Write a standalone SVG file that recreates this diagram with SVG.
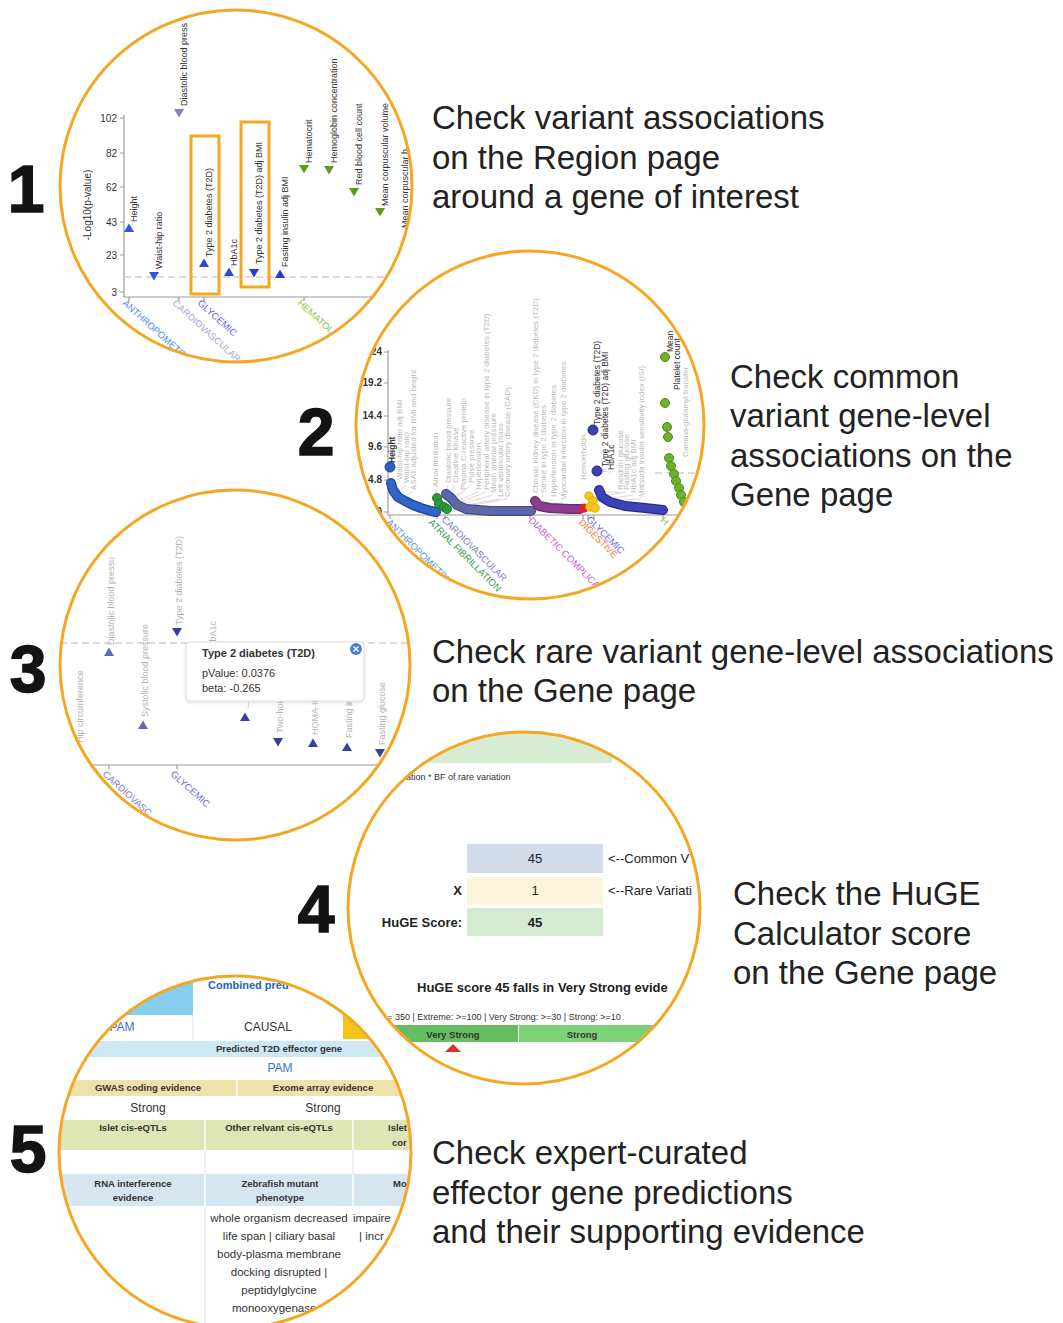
<svg xmlns="http://www.w3.org/2000/svg" xmlns:xlink="http://www.w3.org/1999/xlink" width="1063" height="1323" viewBox="0 0 1063 1323">
  <style>
    .ring{fill:none;stroke:#f5a623;stroke-width:3}
    .num{font-family:'Liberation Sans',Arial,sans-serif;font-weight:bold;font-size:66px;fill:#141414;stroke:#141414;stroke-width:1.6;text-anchor:middle}
    .cap{font-family:'Liberation Sans',Arial,sans-serif;font-size:33px;fill:#222}
    .tk{font-family:'Liberation Sans',Arial,sans-serif;font-size:10px;fill:#333}
    .tkr{font-family:'Liberation Sans',Arial,sans-serif;font-size:10px;fill:#333;text-anchor:end}
    .lb{font-family:'Liberation Sans',Arial,sans-serif;font-size:9px;fill:#333}
    .gl{font-family:'Liberation Sans',Arial,sans-serif;font-size:8px;fill:#b9b9b9}
    .dk{font-family:'Liberation Sans',Arial,sans-serif;font-size:8.5px;fill:#333}
    .lg{font-family:'Liberation Sans',Arial,sans-serif;font-size:9px;fill:#b3b3b3}
    .cat{font-family:'Liberation Sans',Arial,sans-serif;font-size:9.5px}
    .axis{stroke:#999;stroke-width:1.2;fill:none}
    .dash{stroke:#cfcfcf;stroke-width:1.3;stroke-dasharray:7 4;fill:none}
    .lead{stroke:#c8c8c8;stroke-width:0.7;fill:none}
    .tt{font-family:'Liberation Sans',Arial,sans-serif;font-size:11px;fill:#333}
    .hg{font-family:'Liberation Sans',Arial,sans-serif;font-size:13px;fill:#222}
    .hgb{font-family:'Liberation Sans',Arial,sans-serif;font-size:13px;font-weight:bold;fill:#222}
    .sm{font-family:'Liberation Sans',Arial,sans-serif;font-size:9px;fill:#333}
    .tb{font-family:'Liberation Sans',Arial,sans-serif;font-size:12px;fill:#333;text-anchor:middle}
    .tc{font-family:'Liberation Sans',Arial,sans-serif;font-size:11.5px;fill:#333;text-anchor:middle}
    .th{font-family:'Liberation Sans',Arial,sans-serif;font-size:9.5px;font-weight:bold;fill:#333;text-anchor:middle}
    .st{text-anchor:start}
    .lnk{fill:#3a72c6}
    .grid{stroke:#e2e2e2;stroke-width:1}
  </style>
  <defs>
    <path id="tu" d="M0,-4.5 L5,4 L-5,4 Z"/>
    <path id="td" d="M0,4.5 L5,-4 L-5,-4 Z"/>
    <clipPath id="c1"><circle cx="236" cy="186" r="175"/></clipPath>
    <clipPath id="c2"><circle cx="530" cy="425" r="173"/></clipPath>
    <clipPath id="c3"><circle cx="235" cy="665" r="174"/></clipPath>
    <clipPath id="c4"><circle cx="524" cy="908" r="175"/></clipPath>
    <clipPath id="c5"><circle cx="235" cy="1152" r="175"/></clipPath>
    <filter id="shadow" x="-10%" y="-10%" width="120%" height="130%">
      <feDropShadow dx="0" dy="1" stdDeviation="1.5" flood-color="#000" flood-opacity="0.15"/>
    </filter>
  </defs>

  <rect width="1063" height="1323" fill="#fff"/>

  <!-- step numbers -->
  <g id="numbers">
    <text class="num" x="26" y="212">1</text>
    <text class="num" x="316" y="455">2</text>
    <text class="num" x="28" y="692">3</text>
    <text class="num" x="316" y="932">4</text>
    <text class="num" x="28" y="1172">5</text>
  </g>

  <!-- captions -->
  <g id="captions">
    <text class="cap" x="432" y="129">Check variant associations</text>
    <text class="cap" x="432" y="169">on the Region page</text>
    <text class="cap" x="432" y="208">around a gene of interest</text>

    <text class="cap" x="730" y="388">Check common</text>
    <text class="cap" x="730" y="427">variant gene-level</text>
    <text class="cap" x="730" y="467">associations on the</text>
    <text class="cap" x="730" y="506">Gene page</text>

    <text class="cap" x="432" y="663">Check rare variant gene-level associations</text>
    <text class="cap" x="432" y="702">on the Gene page</text>

    <text class="cap" x="733" y="905">Check the HuGE</text>
    <text class="cap" x="733" y="945">Calculator score</text>
    <text class="cap" x="733" y="984">on the Gene page</text>

    <text class="cap" x="432" y="1164">Check expert-curated</text>
    <text class="cap" x="432" y="1204">effector gene predictions</text>
    <text class="cap" x="432" y="1243">and their supporting evidence</text>
  </g>

  <!-- 1: region page PheWAS plot -->
  <g id="panel1">
    <g clip-path="url(#c1)">
      <text class="tk" transform="translate(91,205) rotate(-90)" text-anchor="middle">-Log10(p-value)</text>
      <path class="axis" d="M124,115 V297 H420"/>
      <path class="axis" d="M120,118 H124 M120,153 H124 M120,187 H124 M120,222 H124 M120,255 H124 M120,292 H124"/>
      <text class="tkr" x="117" y="121.5">102</text>
      <text class="tkr" x="117" y="156.5">82</text>
      <text class="tkr" x="117" y="190.5">62</text>
      <text class="tkr" x="117" y="225.5">43</text>
      <text class="tkr" x="117" y="258.5">23</text>
      <text class="tkr" x="117" y="295.5">3</text>
      <path class="axis" d="M129,297 V301 M179,297 V301 M204,297 V301 M304,297 V301"/>
      <path class="dash" d="M124,277 H420"/>

      <!-- category labels -->
      <text class="cat" fill="#3f8ef0" transform="translate(122,304) rotate(42)">ANTHROPOMETRIC</text>
      <text class="cat" fill="#a3a7dc" transform="translate(172,304) rotate(42)">CARDIOVASCULAR</text>
      <text class="cat" fill="#6a5fe2" transform="translate(197,304) rotate(42)">GLYCEMIC</text>
      <text class="cat" fill="#8cc63f" transform="translate(297,304) rotate(42)">HEMATOLOGIC</text>

      <!-- leaders -->
      <path class="lead" d="M131,224 H134 M156,270 H159 M181,108 H184 M206,258 H209 M231,267 H234 M256,265 H259 M282,268 H285 M306,163 H309 M331,164 H334 M356,186 H359 M382,206 H385"/>

      <!-- markers -->
      <use href="#tu" x="129" y="228" fill="#2d56dc"/>
      <use href="#td" x="154" y="276" fill="#2d56dc"/>
      <use href="#td" x="179" y="113" fill="#7d82c6"/>
      <use href="#tu" x="204" y="263" fill="#2d48d4"/>
      <use href="#tu" x="229" y="272" fill="#2d48d4"/>
      <use href="#td" x="254" y="273" fill="#2a3ad0"/>
      <use href="#tu" x="280" y="274" fill="#2a3ad0"/>
      <use href="#td" x="304" y="169" fill="#5f9a1f"/>
      <use href="#td" x="329" y="170" fill="#5f9a1f"/>
      <use href="#td" x="354" y="192" fill="#5f9a1f"/>
      <use href="#td" x="380" y="212" fill="#5f9a1f"/>

      <!-- marker labels -->
      <text class="lb" transform="translate(137,222) rotate(-90)">Height</text>
      <text class="lb" transform="translate(162,269) rotate(-90)">Waist-hip ratio</text>
      <text class="lb" transform="translate(187,106) rotate(-90)">Diastolic blood press</text>
      <text class="lb" transform="translate(212,257) rotate(-90)">Type 2 diabetes (T2D)</text>
      <text class="lb" transform="translate(237,266) rotate(-90)">HbA1c</text>
      <text class="lb" transform="translate(262,264) rotate(-90)">Type 2 diabetes (T2D) adj BMI</text>
      <text class="lb" transform="translate(288,267) rotate(-90)">Fasting insulin adj BMI</text>
      <text class="lb" transform="translate(312,163) rotate(-90)">Hematocrit</text>
      <text class="lb" transform="translate(337,163) rotate(-90)">Hemoglobin concentration</text>
      <text class="lb" transform="translate(362,185) rotate(-90)">Red blood cell count</text>
      <text class="lb" transform="translate(388,206) rotate(-90)">Mean corpuscular volume</text>
      <text class="lb" transform="translate(408,228) rotate(-90)">Mean corpuscular h</text>

      <!-- highlight boxes -->
      <rect x="191" y="136" width="28" height="158" fill="none" stroke="#f5a623" stroke-width="3"/>
      <rect x="241" y="122" width="28" height="165" fill="none" stroke="#f5a623" stroke-width="3"/>
    </g>
    <circle class="ring" cx="236" cy="186" r="176"/>
  </g>

  <!-- 2: common variant gene-level plot -->
  <g id="panel2">
    <g clip-path="url(#c2)">
      <path class="axis" d="M388,350 V515 H710"/>
      <path class="axis" d="M384,352 H388 M384,383 H388 M384,416 H388 M384,447 H388 M384,480 H388 M384,512 H388"/>
      <text class="tkr" x="382" y="355" font-size="9.5" font-weight="bold">24</text>
      <text class="tkr" x="382" y="386" font-size="9.5" font-weight="bold">19.2</text>
      <text class="tkr" x="382" y="419" font-size="9.5" font-weight="bold">14.4</text>
      <text class="tkr" x="382" y="450" font-size="9.5" font-weight="bold">9.6</text>
      <text class="tkr" x="382" y="483" font-size="9.5" font-weight="bold">4.8</text>
      <text class="tkr" x="382" y="515" font-size="9.5" font-weight="bold">0</text>
      <path class="axis" d="M390,515 V519 M437,515 V519 M445,515 V519 M530,515 V519 M583,515 V519 M588,515 V519 M594,515 V519 M663,515 V519"/>
      <path class="dash" d="M655,473 H705"/>

      <!-- gray labels -->
      <text class="gl" transform="translate(402,480) rotate(-90)">Waist-hip ratio adj BMI</text>
      <text class="gl" transform="translate(409,483) rotate(-90)">Waist-hip ratio</text>
      <text class="gl" transform="translate(416,490) rotate(-90)">ASAT adjusted for BMI and height</text>
      <text class="gl" transform="translate(438,487) rotate(-90)">Atrial fibrillation</text>
      <text class="gl" transform="translate(451,483) rotate(-90)">Diastolic blood pressure</text>
      <text class="gl" transform="translate(458,483) rotate(-90)">Creatine kinase</text>
      <text class="gl" transform="translate(466,490) rotate(-90)">Plasma C-reactive protein</text>
      <text class="gl" transform="translate(474,483) rotate(-90)">Pulse pressure</text>
      <text class="gl" transform="translate(481,490) rotate(-90)">Hypertension</text>
      <text class="gl" transform="translate(489,490) rotate(-90)">Peripheral artery disease in type 2 diabetes (T2D)</text>
      <text class="gl" transform="translate(496,493) rotate(-90)">Mean arterial pressure</text>
      <text class="gl" transform="translate(503,497) rotate(-90)">Left ventricular mass</text>
      <text class="gl" transform="translate(510,497) rotate(-90)">Coronary artery disease (CAD)</text>
      <text class="gl" transform="translate(538,493) rotate(-90)">Chronic kidney disease (CKD) in type 2 diabetes (T2D)</text>
      <text class="gl" transform="translate(546,493) rotate(-90)">Stroke in type 2 diabetes</text>
      <text class="gl" transform="translate(556,497) rotate(-90)">Hypertension in type 2 diabetes</text>
      <text class="gl" transform="translate(566,500) rotate(-90)">Myocardial infarction in type 2 diabetes</text>
      <text class="gl" transform="translate(586,480) rotate(-90)">Hemorrhoids</text>
      <text class="gl" transform="translate(623,490) rotate(-90)">Random glucose</text>
      <text class="gl" transform="translate(629,490) rotate(-90)">Fasting glucose</text>
      <text class="gl" transform="translate(636,493) rotate(-90)">HbA1c adj BMI</text>
      <text class="gl" transform="translate(644,497) rotate(-90)">Matsuda insulin sensitivity index (ISI)</text>
      <text class="gl" transform="translate(688,457) rotate(-90)">Gamma-glutamyl transfer</text>

      <!-- dark labels -->
      <text class="dk" font-weight="bold" transform="translate(395,463) rotate(-90)">Height</text>
      <text class="dk" transform="translate(600,425) rotate(-90)">Type 2 diabetes (T2D)</text>
      <text class="dk" transform="translate(608,467) rotate(-90)">Type 2 diabetes (T2D) adj BMI</text>
      <text class="dk" transform="translate(614,470) rotate(-90)">HbA1c</text>
      <text class="dk" transform="translate(673,352) rotate(-90)">Mean</text>
      <text class="dk" transform="translate(680,390) rotate(-90)">Platelet count</text>

      <!-- leaders -->
      <path class="lead" d="M399,482 L393,488 M406,485 L396,494 M413,492 L400,498 M435,489 L437,497 M448,485 L446,493 M455,485 L448,495 M463,492 L450,497 M471,485 L452,500 M478,492 L454,502 M486,492 L456,504 M493,495 L458,505 M500,499 L460,506 M507,499 L462,507 M535,495 L535,500 M543,495 L537,502 M553,499 L540,505 M563,502 L543,506 M620,492 L601,492 M626,492 L603,496 M633,495 L605,499 M641,499 L607,501 M611,472 L599,471 M605,469 L599,470"/>

      <!-- anthropometric -->
      <circle cx="390" cy="467" r="5" fill="#2f5fc2" stroke="#1e449e" stroke-width="1"/>
      <path d="M391,483 L393,490 L398,497 L405,501 L413,505 L421,508 L431,511 L436,512" fill="none" stroke="#1e449e" stroke-width="10" stroke-linecap="round" stroke-linejoin="round"/>
      <path d="M391,483 L393,490 L398,497 L405,501 L413,505 L421,508 L431,511 L436,512" fill="none" stroke="#3166c8" stroke-width="7.5" stroke-linecap="round" stroke-linejoin="round"/>
      <!-- atrial fibrillation -->
      <g fill="#2d9a3a" stroke="#1c7a2a" stroke-width="1">
        <circle cx="437" cy="498" r="4.5"/>
        <circle cx="439" cy="504" r="4.5"/>
        <circle cx="444" cy="507" r="4.5"/>
        <circle cx="447" cy="509" r="4.5"/>
      </g>
      <!-- cardiovascular -->
      <path d="M446,494 L451,498 L457,505 L466,509 L490,511 L531,511" fill="none" stroke="#3f4886" stroke-width="10" stroke-linecap="round" stroke-linejoin="round"/>
      <path d="M446,494 L451,498 L457,505 L466,509 L490,511 L531,511" fill="none" stroke="#5d67aa" stroke-width="7.5" stroke-linecap="round" stroke-linejoin="round"/>
      <!-- diabetic complications -->
      <path d="M535,501 L539,506 L550,508 L570,509 L580,509" fill="none" stroke="#6a2a6e" stroke-width="10" stroke-linecap="round" stroke-linejoin="round"/>
      <path d="M535,501 L539,506 L550,508 L570,509 L580,509" fill="none" stroke="#8d3c8e" stroke-width="7.5" stroke-linecap="round" stroke-linejoin="round"/>
      <!-- digestive / other -->
      <circle cx="584" cy="508" r="4.5" fill="#e2231f"/>
      <g fill="#f4c61c" stroke="#d9a800" stroke-width="0.8">
        <circle cx="589" cy="496" r="4.3"/>
        <circle cx="593" cy="501" r="4.3"/>
        <circle cx="590" cy="507" r="4.3"/>
        <circle cx="595" cy="508" r="4.3"/>
      </g>
      <!-- glycemic -->
      <g fill="#3a40b4" stroke="#262b8e" stroke-width="1">
        <circle cx="593" cy="430" r="5"/>
        <circle cx="597" cy="471" r="5"/>
      </g>
      <path d="M599,490 L602,497 L610,502 L625,506 L645,508 L663,510" fill="none" stroke="#262b8e" stroke-width="10" stroke-linecap="round" stroke-linejoin="round"/>
      <path d="M599,490 L602,497 L610,502 L625,506 L645,508 L663,510" fill="none" stroke="#3c42b8" stroke-width="7.5" stroke-linecap="round" stroke-linejoin="round"/>
      <!-- hematologic -->
      <g fill="#6cb22e" stroke="#4d8a1c" stroke-width="1">
        <circle cx="665" cy="357" r="4.5"/>
        <circle cx="665" cy="403" r="4.5"/>
        <circle cx="667" cy="427" r="4.5"/>
        <circle cx="668" cy="437" r="4.5"/>
        <circle cx="669" cy="458" r="4.5"/>
        <circle cx="671" cy="466" r="4.5"/>
        <circle cx="674" cy="474" r="4.5"/>
        <circle cx="676" cy="481" r="4.5"/>
        <circle cx="679" cy="488" r="4.5"/>
        <circle cx="681" cy="495" r="4.5"/>
        <circle cx="684" cy="502" r="4.5"/>
      </g>

      <!-- category labels -->
      <text class="cat" fill="#5b93e0" transform="translate(386,523) rotate(45)">ANTHROPOMETRIC</text>
      <text class="cat" fill="#2b9a4a" transform="translate(428,523) rotate(45)">ATRIAL FIBRILLATION</text>
      <text class="cat" fill="#7a80c4" transform="translate(441,520) rotate(45)">CARDIOVASCULAR</text>
      <text class="cat" fill="#c462c4" transform="translate(528,521) rotate(45)">DIABETIC COMPLICA</text>
      <text class="cat" fill="#f07a30" transform="translate(578,523) rotate(45)">DIGESTIVE</text>
      <text class="cat" fill="#6a6ae0" transform="translate(586,520) rotate(45)">GLYCEMIC</text>
      <text class="cat" fill="#8cc63f" transform="translate(660,521) rotate(45)">H</text>
    </g>
    <circle class="ring" cx="530" cy="425" r="174"/>
  </g>

  <!-- 3: rare variant gene-level plot -->
  <g id="panel3">
    <g clip-path="url(#c3)">
      <path class="dash" d="M60,643 H415"/>
      <path class="axis" d="M88,765 H415"/>
      <path class="axis" d="M109,765 V769 M177,765 V769"/>

      <text class="lg" transform="translate(83,743) rotate(-90)">Hip circumference</text>
      <text class="lg" transform="translate(114,645) rotate(-90)">Diastolic blood pressu</text>
      <text class="lg" transform="translate(148,717) rotate(-90)">Systolic blood pressure</text>
      <text class="lg" transform="translate(182,625) rotate(-90)">Type 2 diabetes (T2D)</text>
      <text class="lg" transform="translate(216,648) rotate(-90)">HbA1c</text>
      <text class="lg" transform="translate(283,733) rotate(-90)">Two-hour glucose</text>
      <text class="lg" transform="translate(318,735) rotate(-90)">HOMA-IR</text>
      <text class="lg" transform="translate(352,738) rotate(-90)">Fasting insulin</text>
      <text class="lg" transform="translate(385,745) rotate(-90)">Fasting glucose</text>
      <path class="lead" d="M248,710 L249,700"/>

      <use href="#tu" x="109" y="652" fill="#6368b2"/>
      <use href="#tu" x="143" y="725" fill="#6368b2"/>
      <use href="#td" x="177" y="632" fill="#3b3f9c"/>
      <use href="#tu" x="245" y="717" fill="#3b3f9c"/>
      <use href="#td" x="278" y="742" fill="#3b3f9c"/>
      <use href="#tu" x="313" y="743" fill="#3b3f9c"/>
      <use href="#tu" x="347" y="747" fill="#3b3f9c"/>
      <use href="#td" x="380" y="753" fill="#3b3f9c"/>

      <text class="cat" fill="#7a7fc4" transform="translate(102,775) rotate(42)">CARDIOVASC</text>
      <text class="cat" fill="#6a6ad8" transform="translate(170,775) rotate(42)">GLYCEMIC</text>

      <!-- tooltip -->
      <rect x="186" y="642" width="178" height="59" rx="4" fill="#fff" stroke="#dedede" filter="url(#shadow)"/>
      <text class="tt" x="202" y="657" font-weight="bold">Type 2 diabetes (T2D)</text>
      <text class="tt" x="202" y="677">pValue: 0.0376</text>
      <text class="tt" x="202" y="692">beta: -0.265</text>
      <circle cx="356" cy="649" r="6" fill="#4a80d8"/>
      <path d="M353.5,646.5 L358.5,651.5 M358.5,646.5 L353.5,651.5" stroke="#fff" stroke-width="1.4"/>
    </g>
    <circle class="ring" cx="235" cy="665" r="175"/>
  </g>

  <!-- 4: HuGE calculator -->
  <g id="panel4">
    <g clip-path="url(#c4)">
      <rect x="380" y="725" width="232" height="38" fill="#d8edd4"/>
      <text class="sm" x="406" y="780">ation * BF of rare variation</text>

      <rect x="467" y="844" width="136" height="29" fill="#d3daea"/>
      <rect x="467" y="877" width="136" height="28" fill="#fdf4dc"/>
      <rect x="467" y="908" width="136" height="28" fill="#d5ebd1"/>
      <text class="hg" x="535" y="863" text-anchor="middle">45</text>
      <text class="hg" x="535" y="895" text-anchor="middle">1</text>
      <text class="hgb" x="535" y="927" text-anchor="middle">45</text>
      <text class="hgb" x="462" y="895" text-anchor="end">X</text>
      <text class="hgb" x="462" y="927" text-anchor="end">HuGE Score:</text>
      <text class="hg" x="608" y="863" fill="#555">&lt;--Common V</text>
      <text class="hg" x="608" y="895" fill="#555">&lt;--Rare Variati</text>

      <text class="hgb" x="417" y="992">HuGE score 45 falls in Very Strong evide</text>
      <text class="sm" x="382" y="1020">&gt;= 350 | Extreme: &gt;=100 | Very Strong: &gt;=30 | Strong: &gt;=10</text>

      <rect x="360" y="1025" width="158" height="17" fill="#66be63"/>
      <rect x="519" y="1025" width="160" height="17" fill="#7cd378"/>
      <text class="th" x="453" y="1038" font-size="11" fill="#1e2e1e">Very Strong</text>
      <text class="th" x="582" y="1038" font-size="11" fill="#1e2e1e">Strong</text>
      <path d="M445,1052 L453,1044 L461,1052 Z" fill="#d9302c"/>
    </g>
    <circle class="ring" cx="524" cy="908" r="176"/>
  </g>

  <!-- 5: effector gene prediction table -->
  <g id="panel5">
    <g clip-path="url(#c5)">
      <rect x="40" y="960" width="153" height="55" fill="#86cdee"/>
      <text x="208" y="989" font-family="'Liberation Sans',Arial,sans-serif" font-size="11" font-weight="bold" fill="#2266b8">Combined pred</text>
      <rect x="343" y="1015" width="80" height="24" fill="#f5c518"/>
      <line class="grid" x1="193" y1="1015" x2="193" y2="1040"/>
      <text class="tb lnk" x="122" y="1031">PAM</text>
      <text class="tb" x="268" y="1031">CAUSAL</text>

      <rect x="40" y="1041" width="390" height="16" fill="#cde7f5"/>
      <text class="th" x="279" y="1052">Predicted T2D effector gene</text>
      <text class="tb lnk" x="280" y="1072">PAM</text>

      <rect x="40" y="1080" width="390" height="16" fill="#efe1ab"/>
      <line x1="237" y1="1080" x2="237" y2="1118" stroke="#fff" stroke-width="1.5"/>
      <text class="th" x="148" y="1091">GWAS coding evidence</text>
      <text class="th" x="323" y="1091">Exome array evidence</text>
      <text class="tb" x="148" y="1112">Strong</text>
      <text class="tb" x="323" y="1112">Strong</text>

      <rect x="40" y="1120" width="390" height="30" fill="#dde6b4"/>
      <text class="th" x="133" y="1131">Islet cis-eQTLs</text>
      <text class="th" x="279" y="1131">Other relvant cis-eQTLs</text>
      <text class="th st" x="388" y="1131">Islet</text>
      <text class="th st" x="392" y="1146">cor</text>

      <rect x="40" y="1174" width="390" height="32" fill="#d6e6f1"/>
      <text class="th" x="133" y="1187">RNA interference</text>
      <text class="th" x="133" y="1201">evidence</text>
      <text class="th" x="280" y="1187">Zebrafish mutant</text>
      <text class="th" x="280" y="1201">phenotype</text>
      <text class="th st" x="393" y="1187">Mo</text>

      <line x1="205" y1="1120" x2="205" y2="1330" stroke="#fff" stroke-width="1.5"/>
      <line x1="353" y1="1120" x2="353" y2="1330" stroke="#fff" stroke-width="1.5"/>
      <line class="grid" x1="205" y1="1150" x2="205" y2="1174"/>
      <line class="grid" x1="353" y1="1150" x2="353" y2="1174"/>
      <line class="grid" x1="205" y1="1206" x2="205" y2="1330"/>

      <text class="tc" x="279" y="1222">whole organism decreased</text>
      <text class="tc" x="279" y="1240">life span | ciliary basal</text>
      <text class="tc" x="279" y="1258">body-plasma membrane</text>
      <text class="tc" x="279" y="1276">docking disrupted |</text>
      <text class="tc" x="279" y="1294">peptidylglycine</text>
      <text class="tc" x="279" y="1312">monooxygenase a</text>
      <text class="tc st" x="353" y="1222">impaire</text>
      <text class="tc st" x="359" y="1240">| incr</text>
    </g>
    <circle class="ring" cx="235" cy="1152" r="176"/>
  </g>
</svg>
